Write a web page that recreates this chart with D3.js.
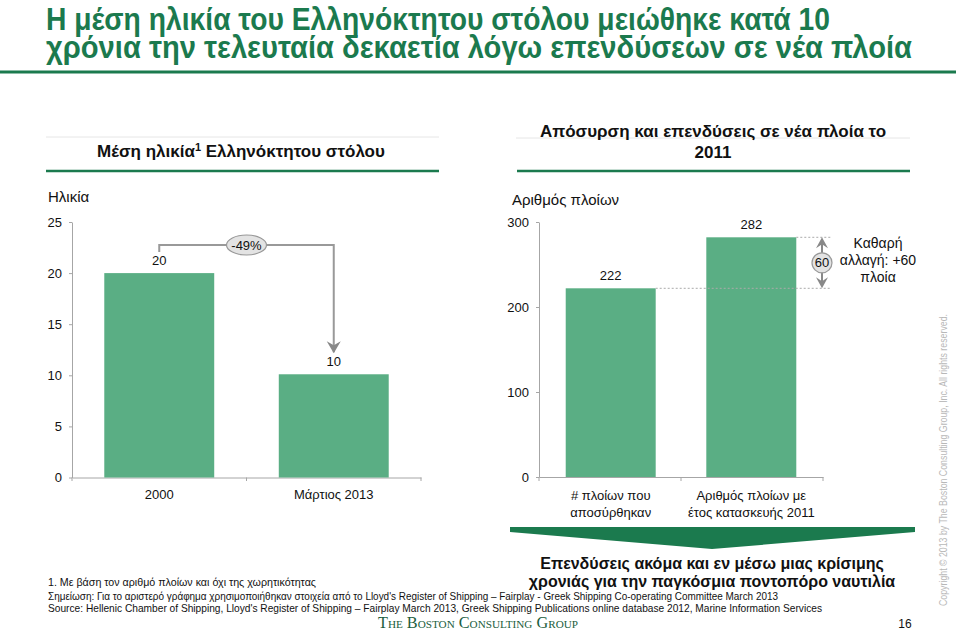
<!DOCTYPE html>
<html><head><meta charset="utf-8">
<script src="https://cdn.jsdelivr.net/npm/d3@7"></script>
<style>
body{margin:0;background:#fff;}
svg{display:block;font-family:"Liberation Sans",Arial,sans-serif;}
</style></head>
<body>
<script>
// ---- data ----
const ageCategories = ["2000", "Μάρτιος 2013"];
const ageValues = [20, 10.1];
const ageLabels = ["20", "10"];
const ageTicks = [0, 5, 10, 15, 20, 25];
const changeLabel = "-49%";

const shipCategories = [["# πλοίων που", "αποσύρθηκαν"], ["Αριθμός πλοίων με", "έτος κατασκευής 2011"]];
const shipValues = [222, 282];
const shipTicks = [0, 100, 200, 300];
const netChange = 60;

const W = 960, H = 631;
const green = "#5aae84", dark = "#1b7a4e", axisC = "#a6a6a6";
const svg = d3.select("body").append("svg").attr("width", W).attr("height", H);

function fitText(sel, len){ sel.attr("textLength", len).attr("lengthAdjust","spacingAndGlyphs"); return sel; }

// ---- title ----
const tfont = '"Liberation Sans Narrow","Arial Narrow","Liberation Sans",sans-serif';
fitText(svg.append("text").attr("x",46).attr("y",30).attr("font-family",tfont).attr("font-weight","bold")
  .attr("font-size",31).attr("fill",dark).text("Η μέση ηλικία του Ελληνόκτητου στόλου μειώθηκε κατά 10"),784);
fitText(svg.append("text").attr("x",46).attr("y",58).attr("font-family",tfont).attr("font-weight","bold")
  .attr("font-size",31).attr("fill",dark).text("χρόνια την τελευταία δεκαετία λόγω επενδύσεων σε νέα πλοία"),866);
svg.append("line").attr("x1",0).attr("x2",956).attr("y1",72).attr("y2",72).attr("stroke",dark).attr("stroke-width",3);

// ---- section headers ----
svg.append("line").attr("x1",46).attr("x2",439).attr("y1",137).attr("y2",137).attr("stroke","#e6e6e6");
svg.append("line").attr("x1",516).attr("x2",910).attr("y1",138).attr("y2",138).attr("stroke","#e6e6e6");
const st = svg.append("text").attr("x",241).attr("y",157).attr("text-anchor","middle").attr("font-weight","bold").attr("font-size",17).attr("fill","#111");
st.append("tspan").text("Μέση ηλικία");
st.append("tspan").attr("font-size",11).attr("dy",-6).text("1");
st.append("tspan").attr("dy",6).text(" Ελληνόκτητου στόλου");
svg.append("text").attr("x",713).attr("y",137).attr("text-anchor","middle").attr("font-weight","bold").attr("font-size",17).attr("fill","#111").text("Απόσυρση και επενδύσεις σε νέα πλοία το");
svg.append("text").attr("x",713).attr("y",158).attr("text-anchor","middle").attr("font-weight","bold").attr("font-size",17).attr("fill","#111").text("2011");
svg.append("line").attr("x1",46).attr("x2",439).attr("y1",171).attr("y2",171).attr("stroke",dark).attr("stroke-width",2.5);
svg.append("line").attr("x1",517).attr("x2",910).attr("y1",171).attr("y2",171).attr("stroke",dark).attr("stroke-width",2.5);

svg.append("text").attr("x",48).attr("y",202).attr("font-size",15).attr("fill","#111").text("Ηλικία");
svg.append("text").attr("x",512).attr("y",205).attr("font-size",15).attr("fill","#111").text("Αριθμός πλοίων");

// ---- left chart ----
const yL = d3.scaleLinear().domain([0,25]).range([477.5,222]);
const xL = d3.scaleBand().domain(ageCategories).range([72,421]).paddingInner(0.37).paddingOuter(0.185);
function styleAxis(g){ g.selectAll("path,line").attr("stroke",axisC); g.selectAll("text").attr("font-size",13).attr("fill","#111").attr("font-family",'"Liberation Sans",Arial,sans-serif'); }
const gyL = svg.append("g").attr("transform","translate(72,0)").call(d3.axisLeft(yL).tickValues(ageTicks).tickSize(3).tickSizeOuter(0).tickPadding(7));
styleAxis(gyL);
const gxL = svg.append("g").attr("transform","translate(0,477.5)").call(d3.axisBottom(xL).tickSize(0).tickSizeOuter(0).tickFormat(()=>""));
styleAxis(gxL);
[72, (72+421)/2, 421].forEach(x=>svg.append("line").attr("x1",x).attr("x2",x).attr("y1",477.5).attr("y2",481).attr("stroke",axisC));
svg.selectAll(".barL").data(ageValues).join("rect").attr("x",(d,i)=>xL(ageCategories[i])).attr("width",xL.bandwidth())
  .attr("y",d=>yL(d)).attr("height",d=>yL(0)-yL(d)).attr("fill",green);
svg.selectAll(".vlL").data(ageValues).join("text").attr("x",(d,i)=>xL(ageCategories[i])+xL.bandwidth()/2)
  .attr("y",d=>yL(d)-8).attr("text-anchor","middle").attr("font-size",13).attr("fill","#111").text((d,i)=>ageLabels[i]);
svg.selectAll(".clL").data(ageCategories).join("text").attr("x",d=>xL(d)+xL.bandwidth()/2).attr("y",499)
  .attr("text-anchor","middle").attr("font-size",13).attr("fill","#111").text(d=>d);

// bracket
const c1 = xL(ageCategories[0])+xL.bandwidth()/2, c2 = xL(ageCategories[1])+xL.bandwidth()/2, by = 245;
svg.append("path").attr("d",`M${c1},252V${by}H${c2}V${yL(ageValues[1])-22}`).attr("fill","none").attr("stroke","#999").attr("stroke-width",2);
svg.append("path").attr("d",`M${c2-7},${yL(ageValues[1])-33}L${c2},${yL(ageValues[1])-21}L${c2+7},${yL(ageValues[1])-33}L${c2},${yL(ageValues[1])-29}Z`).attr("fill","#888");
svg.append("ellipse").attr("cx",(c1+c2)/2).attr("cy",by).attr("rx",20).attr("ry",10).attr("fill","#e3e3e3").attr("stroke","#999").attr("stroke-width",1.2);
svg.append("text").attr("x",(c1+c2)/2).attr("y",by+4.5).attr("text-anchor","middle").attr("font-size",13).attr("fill","#111").text(changeLabel);

// ---- right chart ----
const yR = d3.scaleLinear().domain([0,300]).range([477,222]);
const xR = d3.scaleBand().domain([0,1]).range([539,823]).paddingInner(0.36).paddingOuter(0.19);
const gyR = svg.append("g").attr("transform","translate(539,0)").call(d3.axisLeft(yR).tickValues(shipTicks).tickSize(3).tickSizeOuter(0).tickPadding(7));
styleAxis(gyR);
const gxR = svg.append("g").attr("transform","translate(0,477)").call(d3.axisBottom(xR).tickSize(0).tickSizeOuter(0).tickFormat(()=>""));
styleAxis(gxR);
[539,(539+823)/2,823].forEach(x=>svg.append("line").attr("x1",x).attr("x2",x).attr("y1",477).attr("y2",481).attr("stroke",axisC));
svg.selectAll(".barR").data(shipValues).join("rect").attr("x",(d,i)=>xR(i)).attr("width",xR.bandwidth())
  .attr("y",d=>yR(d)).attr("height",d=>yR(0)-yR(d)).attr("fill",green);
svg.selectAll(".vlR").data(shipValues).join("text").attr("x",(d,i)=>xR(i)+xR.bandwidth()/2)
  .attr("y",d=>yR(d)-8).attr("text-anchor","middle").attr("font-size",13).attr("fill","#111").text(d=>d);
shipCategories.forEach((lines,i)=>{
  lines.forEach((l,j)=>svg.append("text").attr("x",xR(i)+xR.bandwidth()/2).attr("y",500+j*17).attr("text-anchor","middle").attr("font-size",13).attr("fill","#111").text(l));
});
const ax = 822;
shipValues.forEach((v,i)=>svg.append("line").attr("x1",xR(i)+xR.bandwidth()).attr("x2",831).attr("y1",yR(v)).attr("y2",yR(v))
  .attr("stroke","#aaa").attr("stroke-dasharray","2,2"));
const yTop = yR(shipValues[1]), yBot = yR(shipValues[0]);
svg.append("line").attr("x1",ax).attr("x2",ax).attr("y1",yTop+4).attr("y2",yBot-4).attr("stroke","#888").attr("stroke-width",2);
svg.append("path").attr("d",`M${ax-6},${yTop+11}L${ax},${yTop}L${ax+6},${yTop+11}L${ax},${yTop+7}Z`).attr("fill","#888");
svg.append("path").attr("d",`M${ax-6},${yBot-11}L${ax},${yBot}L${ax+6},${yBot-11}L${ax},${yBot-7}Z`).attr("fill","#888");
svg.append("circle").attr("cx",ax).attr("cy",(yTop+yBot)/2).attr("r",10).attr("fill","#e3e3e3").attr("stroke","#999").attr("stroke-width",1.2);
svg.append("text").attr("x",ax).attr("y",(yTop+yBot)/2+4.5).attr("text-anchor","middle").attr("font-size",13).attr("fill","#111").text(netChange);
["Καθαρή","αλλαγή: +"+netChange,"πλοία"].forEach((t,j)=>svg.append("text").attr("x",878).attr("y",248+j*17)
  .attr("text-anchor","middle").attr("font-size",14).attr("fill","#111").text(t));

// ---- green arrow + conclusion ----
svg.append("path").attr("d","M510,527L915,527L915,532L712,549L510,532Z").attr("fill","#1b7a4e");
svg.append("text").attr("x",712).attr("y",569).attr("text-anchor","middle").attr("font-weight","bold").attr("font-size",16).attr("fill","#111").text("Επενδύσεις ακόμα και εν μέσω μιας κρίσιμης");
svg.append("text").attr("x",712).attr("y",587).attr("text-anchor","middle").attr("font-weight","bold").attr("font-size",16).attr("fill","#111").text("χρονιάς για την παγκόσμια ποντοπόρο ναυτιλία");

// ---- footnotes ----
const nf = '"Liberation Sans Narrow","Arial Narrow","Liberation Sans",sans-serif';
fitText(svg.append("text").attr("x",48).attr("y",586).attr("font-family",nf).attr("font-size",11).attr("fill","#111").text("1. Με βάση τον αριθμό πλοίων και όχι της χωρητικότητας"),268);
fitText(svg.append("text").attr("x",48).attr("y",600).attr("font-family",nf).attr("font-size",11).attr("fill","#111").text("Σημείωση: Για το αριστερό γράφημα χρησιμοποιήθηκαν στοιχεία από το Lloyd's Register of Shipping – Fairplay - Greek Shipping Co-operating Committee March 2013"),730);
fitText(svg.append("text").attr("x",48).attr("y",612).attr("font-family",nf).attr("font-size",11).attr("fill","#111").text("Source: Hellenic Chamber of Shipping, Lloyd's Register of Shipping – Fairplay March 2013, Greek Shipping Publications online database 2012, Marine Information Services"),774);
fitText(svg.append("text").attr("x",478).attr("y",628).attr("text-anchor","middle").attr("font-family",'"Liberation Serif","Times New Roman",serif')
  .attr("font-size",16).attr("font-variant","small-caps").attr("fill","#1b5e40").text("The Boston Consulting Group"),200);
svg.append("text").attr("x",905).attr("y",628).attr("text-anchor","middle").attr("font-size",12).attr("fill","#111").text("16");
fitText(svg.append("text").attr("transform","translate(947,460) rotate(-90)").attr("text-anchor","middle").attr("font-size",10.5)
  .attr("fill","#b8b8b8").text("Copyright © 2013 by The Boston Consulting Group, Inc. All rights reserved."),292);
</script>
</body></html>
